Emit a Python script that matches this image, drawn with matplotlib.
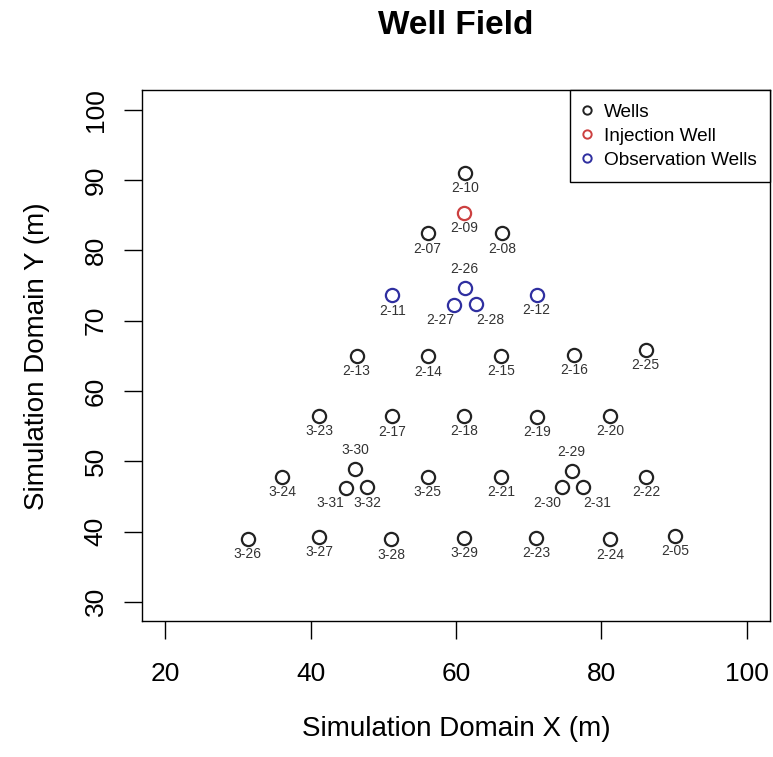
import matplotlib
matplotlib.use("Agg")
import matplotlib.pyplot as plt

plt.rcParams['font.family'] = ['Liberation Sans', 'DejaVu Sans']

# well names, coordinates and type (0 = well, 1 = injection, 2 = observation)
names = ['2-10', '2-09', '2-07', '2-08', '2-26', '2-27', '2-28', '2-11', '2-12',
         '2-13', '2-14', '2-15', '2-16', '2-25',
         '3-23', '2-17', '2-18', '2-19', '2-20',
         '3-30', '3-31', '3-32', '3-24', '3-25', '2-21', '2-29', '2-30', '2-31', '2-22',
         '3-26', '3-27', '3-28', '3-29', '2-23', '2-24', '2-05']
well_x = [61.2, 61.1, 56.1, 66.3, 61.2, 59.7, 62.8, 51.2, 71.1,
          46.3, 56.2, 66.2, 76.2, 86.1,
          41.2, 51.2, 61.1, 71.2, 81.2,
          46.1, 44.8, 47.8, 36.1, 56.1, 66.2, 75.9, 74.6, 77.5, 86.2,
          31.3, 41.2, 51.1, 61.1, 71.0, 81.2, 90.2]
well_y = [91.0, 85.3, 82.4, 82.4, 74.6, 72.2, 72.3, 73.6, 73.7,
          65.0, 64.9, 65.0, 65.1, 65.8,
          56.5, 56.4, 56.5, 56.3, 56.5,
          48.9, 46.2, 46.3, 47.8, 47.8, 47.8, 48.6, 46.3, 46.3, 47.8,
          39.0, 39.2, 38.9, 39.1, 39.1, 38.9, 39.4]
well_type = [0, 1, 0, 0, 2, 2, 2, 2, 2,
             0, 0, 0, 0, 0,
             0, 0, 0, 0, 0,
             0, 0, 0, 0, 0, 0, 0, 0, 0, 0,
             0, 0, 0, 0, 0, 0, 0]
legend_labels = ['Wells', 'Injection Well', 'Observation Wells']
colors = ['#222222', '#cc4040', '#2f2fa0']

# labels placed above the point, and sideways nudges (points)
above = ['2-26', '3-30', '2-29']
nudge = {'2-27': -10, '2-28': 10, '3-31': -11, '2-30': -11, '2-31': 10}

fig = plt.figure(figsize=(7.73, 7.57), dpi=100)
ax = fig.add_axes([0.184, 0.179, 0.812, 0.702])

for t in range(3):
    xs = [x for x, k in zip(well_x, well_type) if k == t]
    ys = [y for y, k in zip(well_y, well_type) if k == t]
    ax.plot(xs, ys, 'o', ms=9.5, mfc='none', mec=colors[t], mew=1.6, ls='none')

for n, x, y in zip(names, well_x, well_y):
    dy = 14 if n in above else -11
    ax.annotate(n, (x, y), xytext=(nudge.get(n, 0), dy), textcoords='offset points',
                ha='center', va='center', fontsize=10, color='#333333')

handles = [plt.Line2D([], [], marker='o', ls='none', ms=6, mfc='none', mec=c, mew=1.4)
           for c in colors]
leg = ax.legend(handles, legend_labels, loc='upper right', fontsize=13.7, fancybox=False,
                edgecolor='black', framealpha=1, borderaxespad=0, handletextpad=0.7,
                handlelength=0.4, labelspacing=0.35, borderpad=0.7)
leg.get_frame().set_linewidth(1.0)

ax.set_xlim(16.8, 103.2)
ax.set_ylim(27.2, 102.8)
ax.set_xticks([20, 40, 60, 80, 100])
ax.set_yticks([30, 40, 50, 60, 70, 80, 90, 100])
ax.tick_params(length=13, width=1, labelsize=19)
ax.tick_params(axis='x', pad=16)
ax.tick_params(axis='y', pad=12)
for lab in ax.get_yticklabels():
    lab.set_rotation(90)
    lab.set_va('center')
for s in ax.spines.values():
    s.set_linewidth(1.0)

ax.set_xlabel('Simulation Domain X (m)', fontsize=20, labelpad=22)
ax.set_ylabel('Simulation Domain Y (m)', fontsize=20, labelpad=24)
fig.suptitle('Well Field', fontsize=24, fontweight='bold', x=0.589, y=0.987, va='top')

fig.savefig('out.png', dpi=100)
